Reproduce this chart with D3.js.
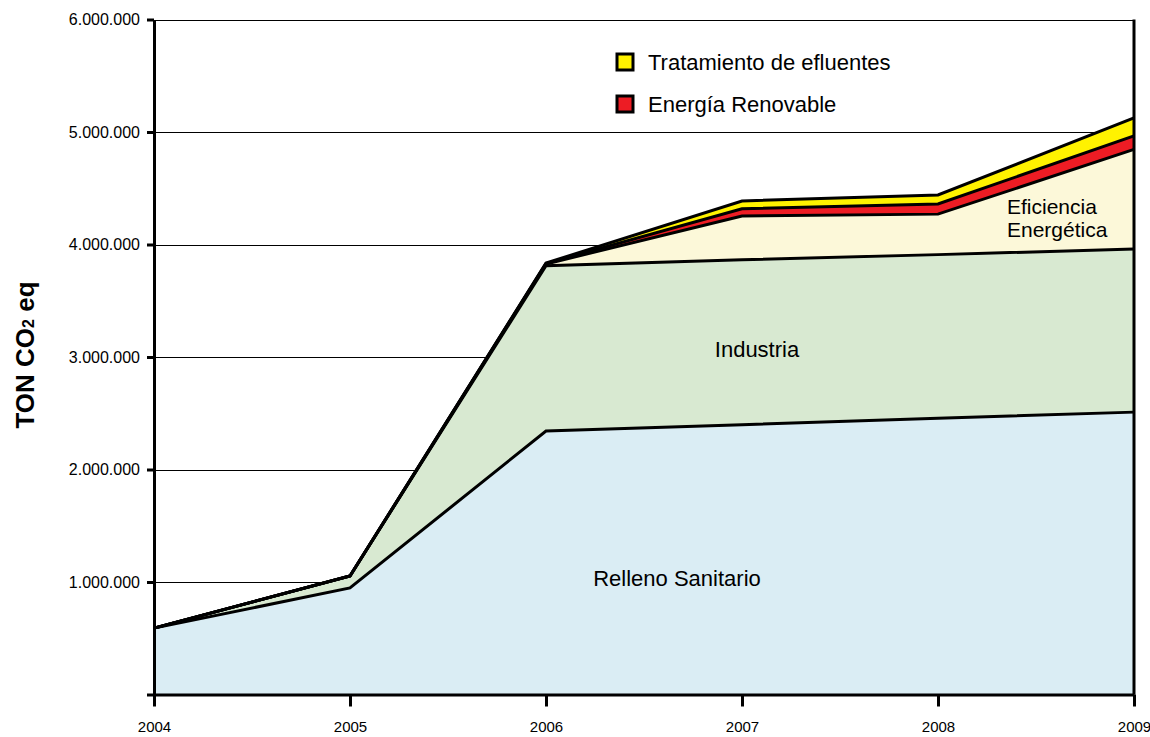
<!DOCTYPE html>
<html lang="es">
<head>
<meta charset="UTF-8">
<title>TON CO2 eq</title>
<script src="https://cdn.jsdelivr.net/npm/d3@7"></script>
<style>
    body { margin: 0; background: #fff; }
    svg { display: block; font-family: "Liberation Sans", Arial, sans-serif; }
    .grid line { stroke: #000; stroke-width: 1; }
    .axis path, .axis line { stroke: #000; stroke-width: 3; }
    .axis text { font-size: 16px; fill: #000; }
    .xaxis text { font-size: 15px; }
    .lbl { font-size: 22px; fill: #000; }
    .small { font-size: 21px; }
</style>
</head>
<body>
<svg width="1150" height="737"></svg>
<script>
// years and tons per source (millions)
var years = [2004, 2005, 2006, 2007, 2008, 2009];
var relleno = [0.59, 0.947, 2.342, 2.398, 2.455, 2.51];
var industria = [0, 0.106, 1.47, 1.466, 1.455, 1.45];
var eficiencia = [0, 0, 0.015, 0.39, 0.36, 0.885];
var energia = [0, 0, 0.004, 0.063, 0.09, 0.12];
var tratamiento = [0, 0, 0.004, 0.07, 0.08, 0.16];
var yTicks = [0, 1, 2, 3, 4, 5, 6];

var keys = ["relleno", "industria", "eficiencia", "energia", "tratamiento"];
var colors = {
    relleno: "#daedf4",
    industria: "#d8e9d1",
    eficiencia: "#fcf8d9",
    energia: "#ed1c24",
    tratamiento: "#fff200"
};
var table = years.map(function (y, i) {
    return {
        year: y,
        relleno: relleno[i] * 1e6,
        industria: industria[i] * 1e6,
        eficiencia: eficiencia[i] * 1e6,
        energia: energia[i] * 1e6,
        tratamiento: tratamiento[i] * 1e6
    };
});

var svg = d3.select("svg");
var x = d3.scaleLinear().domain([2004, 2009]).range([154, 1134]);
var y = d3.scaleLinear().domain([0, 6e6]).range([694.5, 19.5]);
var fmt = function (v) { return v === 0 ? "" : d3.format(",")(v).replace(/,/g, "."); };

// grid
svg.append("g").attr("class", "grid")
    .selectAll("line").data(yTicks.slice(1)).enter().append("line")
    .attr("x1", x(2004)).attr("x2", x(2009))
    .attr("y1", function (d) { return Math.round(y(d * 1e6)) + 0.5; })
    .attr("y2", function (d) { return Math.round(y(d * 1e6)) + 0.5; });

var series = d3.stack().keys(keys)(table);
var area = d3.area()
    .x(function (d) { return x(d.data.year); })
    .y0(function (d) { return y(d[0]); })
    .y1(function (d) { return y(d[1]); });
var topLine = d3.line()
    .x(function (d) { return x(d.data.year); })
    .y(function (d) { return y(d[1]); });

svg.selectAll(".layer").data(series).enter().append("path")
    .attr("class", "layer")
    .attr("fill", function (d) { return colors[d.key]; })
    .attr("d", area);

svg.selectAll(".edge").data(series).enter().append("path")
    .attr("class", "edge")
    .attr("fill", "none")
    .attr("stroke", "#000")
    .attr("stroke-width", 3)
    .attr("stroke-linejoin", "miter")
    .attr("d", topLine);

// right border
svg.append("line")
    .attr("x1", x(2009)).attr("x2", x(2009))
    .attr("y1", y(6e6)).attr("y2", y(0))
    .attr("stroke", "#000").attr("stroke-width", 3);

// axes
var axisY = d3.axisLeft(y).tickValues(yTicks.map(function (d) { return d * 1e6; }))
    .tickFormat(fmt).tickSize(7).tickPadding(7).tickSizeOuter(0);
svg.append("g").attr("class", "axis")
    .attr("transform", "translate(" + x(2004) + ",0)")
    .call(axisY);

var axisX = d3.axisBottom(x).tickValues(years).tickFormat(d3.format("d"))
    .tickSize(12).tickPadding(15).tickSizeOuter(0);
svg.append("g").attr("class", "axis xaxis")
    .attr("transform", "translate(0," + y(0) + ")")
    .call(axisX);

svg.append("text")
    .attr("transform", "translate(34,355) rotate(-90)")
    .attr("text-anchor", "middle")
    .style("font-size", "26px").style("font-weight", "bold")
    .html('TON CO<tspan font-size="16px">2</tspan> eq');

// labels
svg.append("text").attr("class", "lbl").attr("x", 757).attr("y", 357)
    .attr("text-anchor", "middle").text("Industria");
svg.append("text").attr("class", "lbl").attr("x", 677).attr("y", 586)
    .attr("text-anchor", "middle").text("Relleno Sanitario");
svg.append("text").attr("class", "lbl small").attr("x", 1007).attr("y", 214).text("Eficiencia");
svg.append("text").attr("class", "lbl small").attr("x", 1007).attr("y", 237).text("Energética");

// legend
var legend = [
    { key: "tratamiento", name: "Tratamiento de efluentes" },
    { key: "energia", name: "Energía Renovable" }
];
var lg = svg.selectAll(".legend").data(legend).enter().append("g")
    .attr("transform", function (d, i) { return "translate(617," + (54 + i * 42) + ")"; });
lg.append("rect").attr("width", 16).attr("height", 16)
    .attr("fill", function (d) { return colors[d.key]; })
    .attr("stroke", "#000").attr("stroke-width", 3);
lg.append("text").attr("class", "lbl").attr("x", 31).attr("y", 16)
    .text(function (d) { return d.name; });
</script>
</body>
</html>
